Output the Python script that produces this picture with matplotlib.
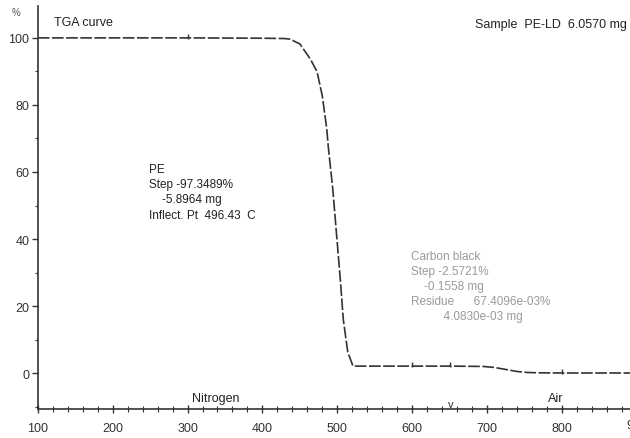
import numpy as np
import matplotlib
matplotlib.use("Agg")
from matplotlib import pyplot as plt
from matplotlib.ticker import MultipleLocator
from matplotlib.transforms import blended_transform_factory

# TGA curve
temp = [100, 200, 300, 400, 430, 437, 450, 464, 473, 480, 486, 488, 494,
        504, 508, 514, 521, 530, 600, 650, 695, 710, 725, 740, 754, 770, 800, 891]
mass = [100, 100, 100, 99.9, 99.8, 99.6, 98.2, 93.7, 89.9, 82.7, 72.8, 67.5, 54.9,
        28.1, 16.1, 6.3, 2.1, 2.1, 2.1, 2.1, 2.0, 1.7, 1.1, 0.5, 0.2, 0.1, 0.05, 0.05]
time_marks = [300, 600, 650, 800]

pe_text = ["PE", "Step -97.3489%", "    -5.8964 mg", "Inflect. Pt  496.43  C"]
cb_text = ["Carbon black", "Step -2.5721%", "    -0.1558 mg",
           "Residue      67.4096e-03%", "          4.0830e-03 mg"]

plt.rcParams["font.family"] = ["Liberation Sans", "DejaVu Sans"]

fig = plt.figure(figsize=(6.3, 4.39), dpi=100)
ax = fig.add_axes([0.060, 0.066, 0.94, 0.918])

ax.plot(temp, mass, color="#333333", lw=1.2, dashes=(7, 1.5))
mark_y = np.interp(time_marks, temp, mass)
ax.vlines(time_marks, mark_y - 0.3, mark_y + 1.3, color="#333333", lw=1)

ax.set_xlim(100, 891)
ax.set_ylim(-10.7, 109.5)
ax.spines["top"].set_visible(False)
ax.spines["right"].set_visible(False)
for s in ["left", "bottom"]:
    ax.spines[s].set_color("#333333")
    ax.spines[s].set_linewidth(1.2)

ax.set_xticks(range(100, 900, 100))
ax.set_yticks(range(0, 101, 20))
ax.xaxis.set_minor_locator(MultipleLocator(20))
ax.yaxis.set_minor_locator(MultipleLocator(10))
ax.tick_params(axis="x", which="major", direction="inout", length=6, width=1,
               labelsize=9, colors="#333333", pad=6)
ax.tick_params(axis="x", which="minor", direction="inout", length=4, width=0.8,
               colors="#333333")
ax.tick_params(axis="y", which="major", direction="out", length=4, width=1,
               labelsize=9, colors="#333333", pad=2)
ax.tick_params(axis="y", which="minor", direction="out", length=2, width=0.8,
               colors="#333333")

# cut-off 900 label at the right edge
tr = blended_transform_factory(ax.transData, ax.transAxes)
ax.text(900, -0.024, "900", transform=tr, ha="center", va="top", fontsize=9,
        color="#333333", clip_on=False)

ax.text(-0.045, 0.985, "%", transform=ax.transAxes, fontsize=7, color="#555555",
        ha="left", va="center")
ax.text(0.027, 0.96, "TGA curve", transform=ax.transAxes, fontsize=9,
        color="#222222", va="center")
ax.text(0.995, 0.955, "Sample  PE-LD  6.0570 mg", transform=ax.transAxes,
        fontsize=9, color="#222222", ha="right", va="center")

ax.text(0.187, 0.61, "\n".join(pe_text), transform=ax.transAxes, fontsize=8.5,
        color="#222222", va="top", linespacing=1.35)
ax.text(0.63, 0.395, "\n".join(cb_text), transform=ax.transAxes, fontsize=8.5,
        color="#9a9a9a", va="top", linespacing=1.35)

ax.text(338, -7.3, "Nitrogen", fontsize=9, color="#222222", ha="center", va="center")
ax.text(792, -7.3, "Air", fontsize=9, color="#222222", ha="center", va="center")
ax.text(651, -9.3, "v", fontsize=8, color="#333333", ha="center", va="center")

fig.savefig("out.png", dpi=100)
